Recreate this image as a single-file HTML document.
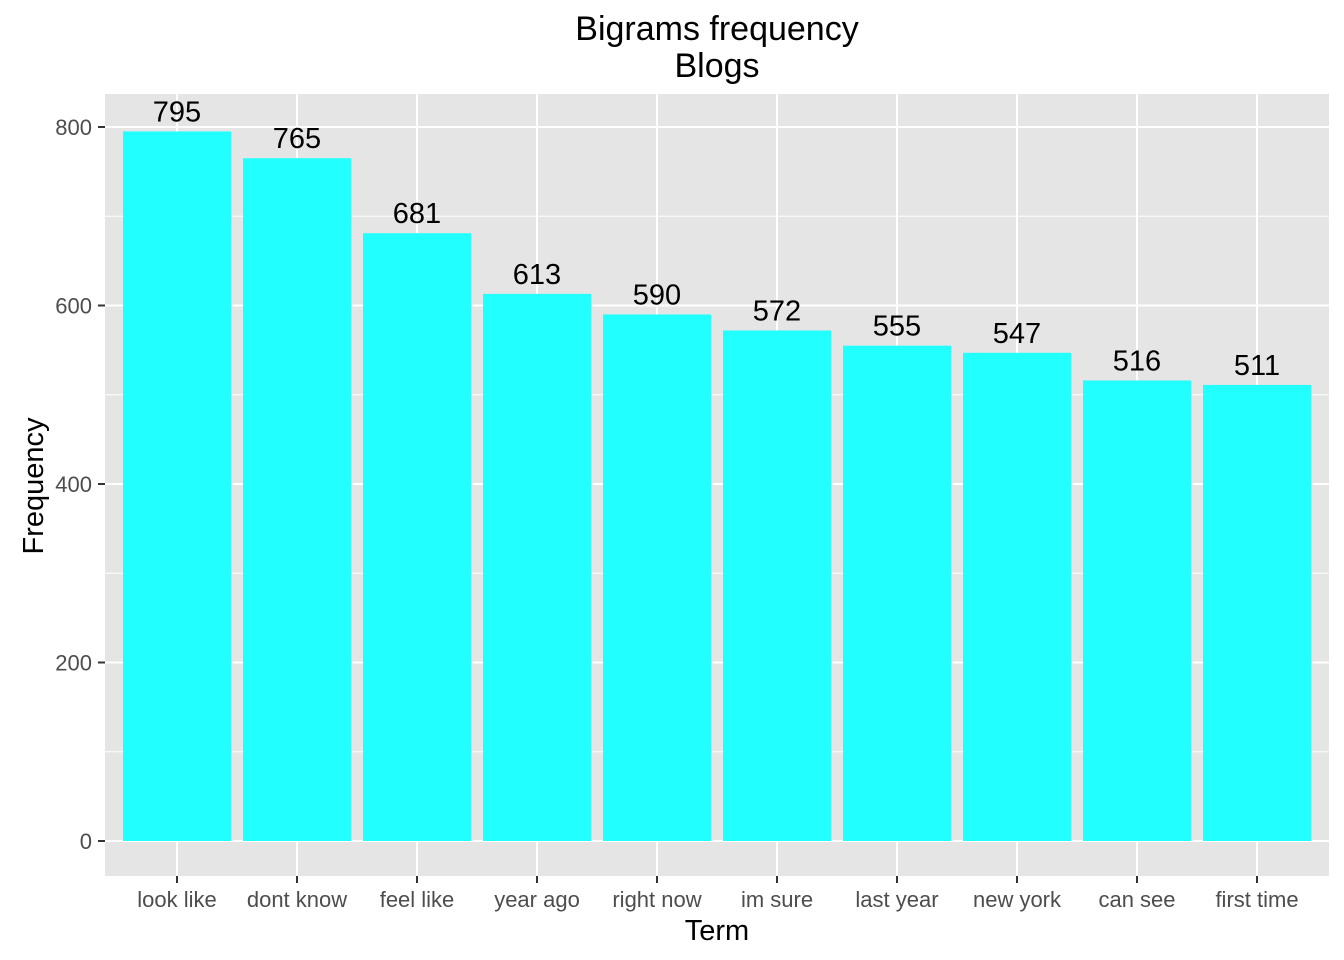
<!DOCTYPE html>
<html><head><meta charset="utf-8"><style>body{margin:0;background:#fff}svg{display:block;font-family:"Liberation Sans",Arial,sans-serif}</style></head>
<body>
<svg id="c" width="1344" height="960"></svg>
<script>
const categories=["look like","dont know","feel like","year ago","right now","im sure","last year","new york","can see","first time"];
const values=[795,765,681,613,590,572,555,547,516,511];
const yTicks=[0,200,400,600,800];
const yMinor=[100,300,500,700];
const NS="http://www.w3.org/2000/svg";
const svg=document.getElementById('c');
const L=105,R=1329,T=94,B=876;
const y=v=>841-v*0.8925;
const x=i=>177+120*i;
function el(t,a,p){const e=document.createElementNS(NS,t);for(const k in a)e.setAttribute(k,a[k]);(p||svg).appendChild(e);return e;}
const panel=el('rect',{x:L,y:T,width:R-L,height:B-T,fill:'#e5e5e5'});


yMinor.forEach(v=>{const g=el('line',{x1:L,x2:R,y1:y(v),y2:y(v),stroke:'#fff','stroke-width':1});

});
yTicks.forEach(v=>{const g=el('line',{x1:L,x2:R,y1:y(v),y2:y(v),stroke:'#fff','stroke-width':2});


const tk=el('line',{x1:L-7,x2:L,y1:y(v),y2:y(v),stroke:'#333','stroke-width':2});


const t=el('text',{x:L-13,y:y(v)+8,'text-anchor':'end','font-size':22,fill:'#4d4d4d'});t.textContent=v;

});
categories.forEach((c,i)=>{const g=el('line',{x1:x(i),x2:x(i),y1:T,y2:B,stroke:'#fff','stroke-width':2});

});
categories.forEach((c,i)=>{
const b=el('rect',{x:x(i)-54,y:y(values[i]),width:108,height:y(0)-y(values[i]),fill:'#22ffff'});


const v=el('text',{x:x(i),y:y(values[i])-10,'text-anchor':'middle','font-size':29,fill:'#000'});v.textContent=values[i];


const tk=el('line',{x1:x(i),x2:x(i),y1:B,y2:B+7,stroke:'#333','stroke-width':2});


const t=el('text',{x:x(i),y:907,'text-anchor':'middle','font-size':22,fill:'#4d4d4d'});t.textContent=c;

});
const t1=el('text',{x:717,y:40,'text-anchor':'middle','font-size':34});t1.textContent='Bigrams frequency';


const t2=el('text',{x:717,y:77,'text-anchor':'middle','font-size':34});t2.textContent='Blogs';


const xt=el('text',{x:717,y:940,'text-anchor':'middle','font-size':29});xt.textContent='Term';


const yt=el('text',{x:0,y:0,'text-anchor':'middle','font-size':29,transform:'translate(43,486) rotate(-90)'});yt.textContent='Frequency';


</script>
</body></html>
